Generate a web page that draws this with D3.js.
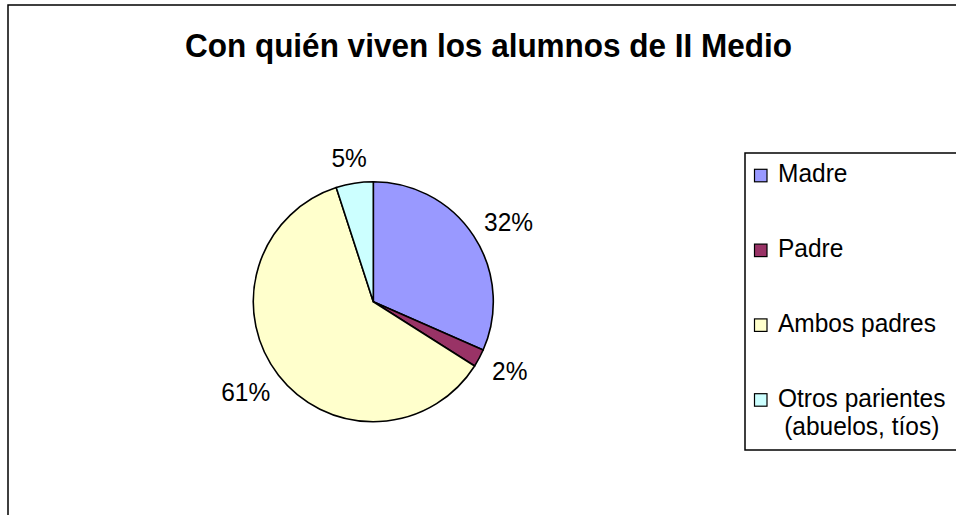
<!DOCTYPE html>
<html>
<head>
<meta charset="utf-8">
<title>Con quién viven los alumnos de II Medio</title>
<script src="https://d3js.org/d3.v7.min.js"></script>
<style>
  html, body { margin: 0; padding: 0; background: #fff; }
  svg { display: block; font-family: Arial, "Liberation Sans", sans-serif; }
</style>
</head>
<body>
<div id="chart"></div>
<script>
// data
const categories = ["Madre", "Padre", "Ambos padres", "Otros parientes (abuelos, tíos)"];
const legendLines = [["Madre"], ["Padre"], ["Ambos padres"], ["Otros parientes", "(abuelos, tíos)"]];
const values = [31.6, 2.4, 61.0, 5.0];
const colors = ["#9999FF", "#993366", "#FFFFCC", "#CCFFFF"];

const width = 956, height = 515;
const cx = 373.3, cy = 301.7, radius = 120;
const sy = 1.07; // the original text is a bit taller than wide

const svg = d3.select("#chart").append("svg")
    .attr("width", width)
    .attr("height", height);

// place a text at (x, y) with a slight vertical stretch
function put(sel, x, y) {
    sel.attr("transform", `translate(${x},${y}) scale(1,${sy})`);
}

// chart area border (runs off the picture on right / bottom)
svg.append("rect")
    .attr("x", 8).attr("y", 5)
    .attr("width", 1200).attr("height", 1200)
    .attr("fill", "none")
    .attr("stroke", "#000")
    .attr("stroke-width", 1.5);

// title
svg.append("text")
    .attr("text-anchor", "middle")
    .style("font-size", "31.5px")
    .style("font-weight", "bold")
    .text("Con quién viven los alumnos de II Medio")
    .call(put, 488.5, 57);

const total = d3.sum(values);
const pie = d3.pie().sort(null).value(d => d)(values);
const arc = d3.arc().innerRadius(0).outerRadius(radius);
const labelArc = d3.arc().innerRadius(137).outerRadius(137);

const g = svg.append("g").attr("transform", `translate(${cx},${cy})`);

g.selectAll("path")
    .data(pie)
    .enter()
    .append("path")
    .attr("d", arc)
    .attr("fill", (d, i) => colors[i])
    .attr("stroke", "#000")
    .attr("stroke-width", 1.6)
    .attr("stroke-linejoin", "round");

// percentage labels, box corner nearest the pie sits on the label radius
const fs = 24.5, cap = fs * 0.716 * sy;
g.selectAll("text.pct")
    .data(pie)
    .enter()
    .append("text")
    .attr("class", "pct")
    .attr("text-anchor", "middle")
    .style("font-size", fs + "px")
    .text(d => Math.round(d.value / total * 100) + "%")
    .each(function(d) {
        const w = this.getComputedTextLength();
        const [px, py] = labelArc.centroid(d);
        const a = (d.startAngle + d.endAngle) / 2;
        const x = px + Math.sin(a) * w / 2;
        const y = py - Math.cos(a) * cap / 2 + cap / 2;
        put(d3.select(this), x, y);
    });

// legend
const legend = svg.append("g");
legend.append("rect")
    .attr("x", 745).attr("y", 153)
    .attr("width", 400).attr("height", 297)
    .attr("fill", "#fff")
    .attr("stroke", "#000")
    .attr("stroke-width", 1.5);

const items = legend.selectAll("g.item")
    .data(categories)
    .enter()
    .append("g")
    .attr("class", "item")
    .attr("transform", (d, i) => `translate(754, ${182.3 + i * 74.8})`);

items.append("rect")
    .attr("x", 0.5).attr("y", -13)
    .attr("width", 12.5).attr("height", 12.5)
    .attr("fill", (d, i) => colors[i])
    .attr("stroke", "#000")
    .attr("stroke-width", 1.2);

items.each(function(d, i) {
    const lines = legendLines[i];
    const first = d3.select(this).append("text")
        .style("font-size", fs + "px")
        .text(lines[0])
        .call(put, 24, 0);
    if (lines.length > 1) {
        const w = first.node().getComputedTextLength();
        d3.select(this).append("text")
            .attr("text-anchor", "middle")
            .style("font-size", fs + "px")
            .text(lines[1])
            .call(put, 24 + w / 2, 28.5);
    }
});
</script>
</body>
</html>
